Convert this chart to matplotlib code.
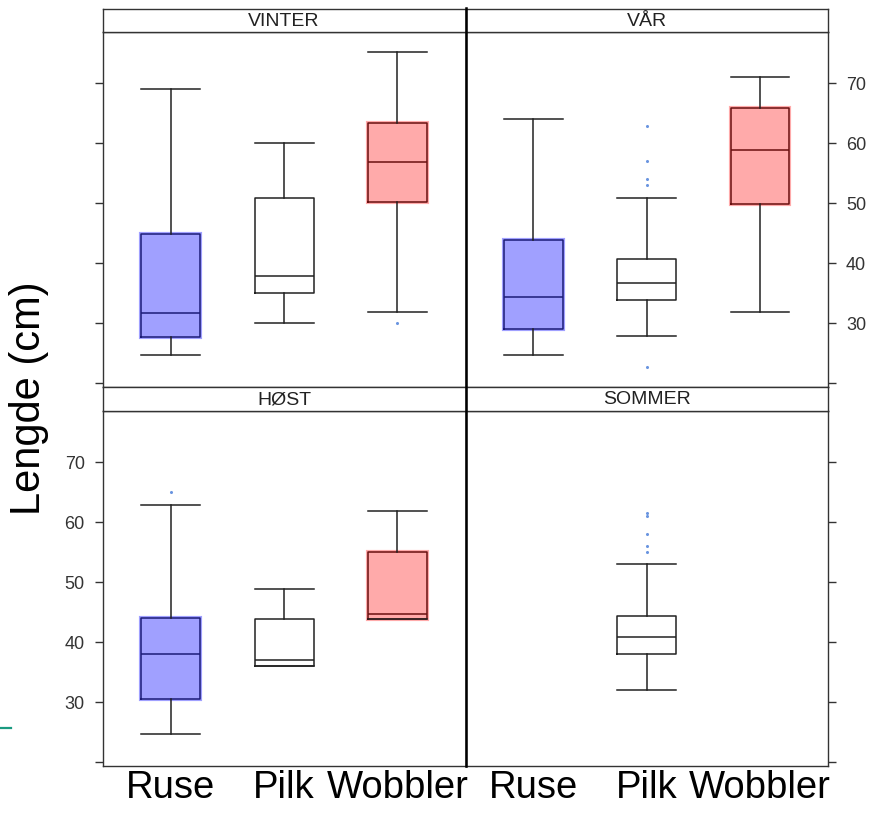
import numpy as np
import matplotlib
matplotlib.use("Agg")
import matplotlib.pyplot as plt
from matplotlib.lines import Line2D

plt.rcParams['font.family'] = ['Liberation Sans', 'DejaVu Sans']

# ---------------- data ----------------
seasons = ["VINTER", "VÅR", "HØST", "SOMMER"]
gears = ["Ruse", "Pilk", "Wobbler"]
nan = np.nan
# rows: seasons, columns: gears (nan = no box)
whislo = [[24.8, 30.0, 31.9], [24.8, 27.9, 31.9], [24.8, 36.0, 43.8], [nan, 32.0, nan]]
q1     = [[27.8, 35.0, 50.2], [29.1, 33.9, 49.8], [30.5, 36.0, 43.8], [nan, 38.0, nan]]
med    = [[31.8, 37.8, 56.9], [34.3, 36.7, 58.8], [38.1, 37.0, 44.7], [nan, 40.8, nan]]
q3     = [[44.8, 50.9, 63.3], [43.8, 40.7, 65.9], [44.0, 43.8, 55.0], [nan, 44.3, nan]]
whishi = [[69.0, 60.0, 75.1], [64.0, 50.9, 71.0], [62.8, 48.8, 61.8], [nan, 53.0, nan]]
fliers = [
    [[], [], [30.0]],
    [[], [62.9, 57.1, 54.0, 53.0, 22.8], []],
    [[65.0], [], []],
    [[], [61.5, 61.0, 58.1, 56.1, 55.1], []],
]
yticks = [20, 30, 40, 50, 60, 70]
ytick_labels = ["", "30", "40", "50", "60", "70"]
ylim = (19.4, 78.5)

fill_colors = ["#a0a0ff", None, "#ffaaaa"]
edge_colors = ["#1c1c78", "#222222", "#6a1010"]

# ---------------- layout ----------------
W, H = 877, 814
fig = plt.figure(figsize=(W / 100, H / 100), dpi=100)


def rect(x0, y0, x1, y1):
    return [x0 / W, 1 - y1 / H, (x1 - x0) / W, (y1 - y0) / H]


cols = [(102.7, 465.5), (465.5, 828.0)]
rows = [(9.0, 32.0, 387.0), (387.0, 411.0, 766.0)]
frame_col = "#333333"
positions = np.arange(1, len(gears) + 1)

for si, season in enumerate(seasons):
    r, c = divmod(si, 2)
    x0, x1 = cols[c]
    st, sb, pb = rows[r]
    ax = fig.add_axes(rect(x0, sb, x1, pb))
    sax = fig.add_axes(rect(x0, st, x1, sb))

    # strip
    sax.set_xticks([])
    sax.set_yticks([])
    for sp in sax.spines.values():
        sp.set_color(frame_col)
        sp.set_linewidth(1.0)
    sax.text(0.5, 0.47, season, ha="center", va="center", fontsize=14,
             color="#222222", transform=sax.transAxes)

    # fills
    for gi in range(len(gears)):
        if np.isnan(med[si][gi]) or fill_colors[gi] is None:
            continue
        ax.bar(positions[gi], q3[si][gi] - q1[si][gi], bottom=q1[si][gi],
               width=0.52, color=fill_colors[gi], edgecolor=fill_colors[gi],
               linewidth=3.0, zorder=1)

    # boxplots
    stats, pos = [], []
    for gi in range(len(gears)):
        if np.isnan(med[si][gi]):
            continue
        stats.append(dict(med=med[si][gi], q1=q1[si][gi], q3=q3[si][gi],
                          whislo=whislo[si][gi], whishi=whishi[si][gi],
                          fliers=fliers[si][gi]))
        pos.append(positions[gi])
    bp = ax.bxp(stats, positions=pos, widths=0.52, showfliers=True,
                boxprops=dict(color="#222222", linewidth=1.1),
                whiskerprops=dict(color="#222222", linewidth=1.1),
                capprops=dict(color="#222222", linewidth=1.1),
                medianprops=dict(color="#222222", linewidth=1.1),
                flierprops=dict(marker="o", markersize=1.2,
                                markerfacecolor="#6a95e0",
                                markeredgecolor="#6a95e0"),
                capwidths=0.52, zorder=3)
    for k, p in enumerate(pos):
        gi = int(p) - 1
        bp["boxes"][k].set_color(edge_colors[gi])
        bp["medians"][k].set_color(edge_colors[gi])

    ax.set_xlim(0.4, 3.6)
    ax.set_ylim(*ylim)
    for sp in ax.spines.values():
        sp.set_color(frame_col)
        sp.set_linewidth(1.0)

    ax.set_yticks(yticks)
    labelled = (r == 0 and c == 1) or (r == 1 and c == 0)
    side_right = (c == 1)
    ax.tick_params(axis="y", direction="out", length=6, width=1.0,
                   color=frame_col, labelsize=13, labelcolor="#333333",
                   left=not side_right, right=side_right,
                   labelleft=(labelled and not side_right),
                   labelright=(labelled and side_right), pad=7)
    ax.set_yticklabels(ytick_labels)

    ax.set_xticks(positions)
    if r == 1:
        ax.set_xticklabels(gears, fontsize=27.5, color="black")
        ax.tick_params(axis="x", length=0, pad=3)
    else:
        ax.tick_params(axis="x", length=0, labelbottom=False)

# thick separator between the columns
fig.add_artist(Line2D([465.5 / W, 465.5 / W], [1 - 8 / H, 1 - 766 / H],
                      color="black", linewidth=1.8))

# y label
fig.text(29 / W, 1 - 398 / H, "Lengde (cm)", rotation=90, ha="center",
         va="center", fontsize=30, color="black")

# small teal dash on the left edge
fig.add_artist(Line2D([0 / W, 11 / W], [1 - 727.5 / H, 1 - 727.5 / H],
                      color="#1a9a80", linewidth=1.6))

fig.savefig("out.png", dpi=100)
